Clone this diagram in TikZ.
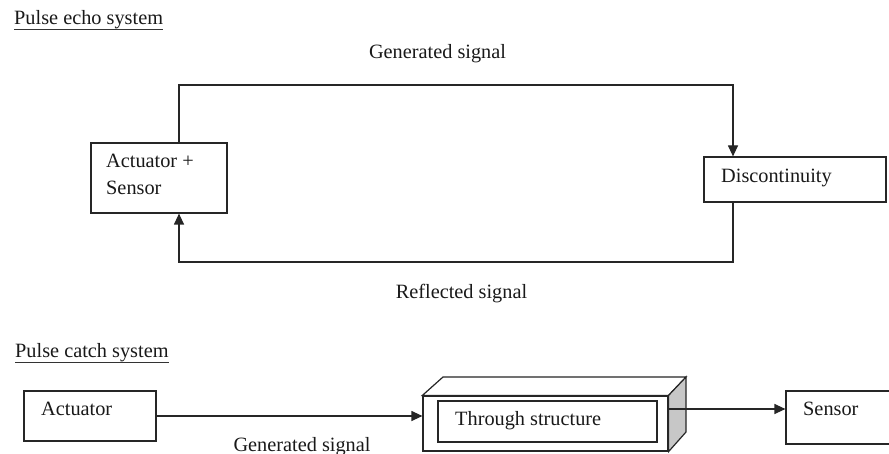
\documentclass[tikz,border=0pt]{standalone}
\usepackage{fontspec}
\setmainfont{Liberation Serif}
\usetikzlibrary{arrows.meta}
\begin{document}
\begin{tikzpicture}[x=1pt,y=-1pt,
  every node/.style={font=\fontsize{20.3}{24}\selectfont, text=black!90},
  txt/.style={inner sep=0pt, anchor=base west},
  ctxt/.style={inner sep=0pt, anchor=base},
  boxx/.style={draw=black!85, line width=1.2pt, fill=white, inner sep=0pt},
  sig/.style={draw=black!85, line width=1.2pt, -{Triangle[length=11pt,width=10pt]}},
  plain/.style={draw=black!85, line width=1.2pt},
  uline/.style={draw=black!80, line width=1pt}]
\useasboundingbox (0,0) rectangle (889,454);
\fill[white] (0,0) rectangle (889,454);

% ---------- Pulse echo system ----------
\node[txt] (pe) at (14,25) {Pulse echo system};
\draw[uline] ([yshift=-4.5pt]pe.base west) -- ([yshift=-4.5pt]pe.base east);

\node[boxx, minimum width=136pt, minimum height=70pt] (as) at (159,178) {};
\node[txt] (asl1) at (106,168) {Actuator +};
\node[txt] (asl2) at (106,195) {Sensor};

\node[boxx, minimum width=182pt, minimum height=45pt] (disc) at (795,179.5) {};
\node[txt] (discl) at (721,183) {Discontinuity};

\coordinate (t1) at (179,85);
\coordinate (t2) at (733,85);
\coordinate (b1) at (179,262);
\coordinate (b2) at (733,262);
\draw[sig] (as.north -| t1) -- (t1) -- (t2) -- (disc.north -| t2);
\draw[sig] (disc.south -| b2) -- (b2) -- (b1) -- (as.south -| b1);

\node[ctxt] (gen1) at (437.5,59) {Generated signal};
\node[ctxt] (refl) at (461.5,299) {Reflected signal};

% ---------- Pulse catch system ----------
\node[txt] (pc) at (15,358) {Pulse catch system};
\draw[uline] ([yshift=-4.5pt]pc.base west) -- ([yshift=-4.5pt]pc.base east);

\node[boxx, minimum width=132pt, minimum height=50pt] (act) at (90,416) {};
\node[txt] (actl) at (41,415) {Actuator};

% 3D block
\node[boxx, minimum width=245pt, minimum height=55pt] (front) at (545.5,423.5) {};
\coordinate (tl) at (443,377);
\coordinate (tr) at (686,377);
\coordinate (br) at (686,432);
\filldraw[plain, fill=white] (front.north west) -- (tl) -- (tr) -- (front.north east) -- cycle;
\filldraw[plain, fill=black!22] (front.north east) -- (tr) -- (br) -- (front.south east) -- cycle;
\node[boxx, minimum width=219pt, minimum height=41pt] (ts) at (547.5,421.5) {};
\node[txt] (tsl) at (455,425) {Through structure};

\node[boxx, minimum width=114pt, minimum height=53pt] (sensor) at (843,417.5) {};
\node[txt] (sensl) at (803,415) {Sensor};

\draw[sig] (act.east) -- (act.east -| front.west);
\coordinate (o) at (668,409);
\draw[sig] (o) -- (o -| sensor.west);

\node[ctxt] (gen2) at (302,451) {Generated signal};
\end{tikzpicture}
\end{document}
